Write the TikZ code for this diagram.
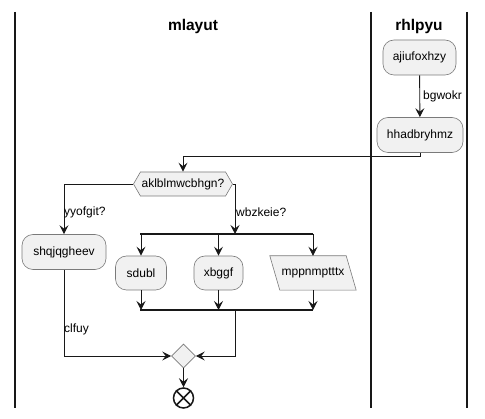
\documentclass[tikz,border=0pt]{standalone}
\usepackage{fontspec}
\setmainfont{Liberation Sans}
\usetikzlibrary{arrows.meta,shapes.geometric,shapes.symbols,backgrounds}
\definecolor{boxfill}{HTML}{F1F1F1}
\definecolor{boxline}{HTML}{7A7A7A}
\definecolor{ink}{HTML}{181818}
\tikzset{
  act/.style={draw=boxline,fill=boxfill,rounded corners=11pt,minimum height=35pt,
    inner sep=0pt,font=\fontsize{12}{14}\selectfont,line width=0.6pt},
  cond/.style={signal,signal to=west and east,signal pointer angle=120,draw=boxline,
    fill=boxfill,minimum width=99pt,minimum height=24pt,inner xsep=1pt,inner ysep=0pt,
    font=\fontsize{12}{14}\selectfont,line width=0.6pt},
  merge/.style={diamond,draw=boxline,fill=boxfill,minimum width=24pt,minimum height=24pt,
    inner sep=0pt,line width=0.6pt},
  flow/.style={draw=ink,line width=0.9pt,-{Stealth[length=9pt,width=9pt,inset=3.5pt]}},
  bar/.style={draw=ink,line width=2pt},
  lane/.style={draw=ink,line width=1.3pt},
  lbl/.style={font=\fontsize{12}{14}\selectfont,inner sep=1pt},
  title/.style={font=\fontsize{15.5}{18}\selectfont\bfseries}
}
\begin{document}
\begin{tikzpicture}[x=1pt,y=-1pt]
\useasboundingbox (0,0) rectangle (485,419);
\draw[lane] (15,12) -- (15,408);
\draw[lane] (371,12) -- (371,408);
\draw[lane] (467,12) -- (467,408);
\node[title] (mlayut) at (193,26) {mlayut};
\node[title] (rhlpyu) at (419,26) {rhlpyu};

\node[act,minimum width=73pt] (ajiu) at (419.5,57.5) {ajiufoxhzy};
\node[act,minimum width=86pt] (hhad) at (420,135) {hhadbryhmz};
\node[cond] (dec) at (183,184) {aklblmwcbhgn?};
\node[act,minimum width=84pt] (shqj) at (64,252) {shqjqgheev};
\node[act,minimum width=51pt,minimum height=34pt] (sdubl) at (141,273) {sdubl};
\node[act,minimum width=49pt,minimum height=34pt] (xbggf) at (218.5,273) {xbggf};
\node[inner sep=0pt,minimum width=76pt,minimum height=34pt,
  font=\fontsize{12}{14}\selectfont] (mppn) at (313,273) {mppnmptttx};
\begin{scope}[on background layer]
\fill[white] (0,0) rectangle (485,419);
\filldraw[draw=boxline,fill=boxfill,line width=0.6pt]
  ([xshift=-5pt]mppn.north west) -- ([xshift=-5pt]mppn.north east)
  -- ([xshift=5pt]mppn.south east) -- ([xshift=5pt]mppn.south west) -- cycle;
\end{scope}
\node[merge] (mrg) at (183.5,356) {};
\node[circle,draw=ink,line width=1.5pt,minimum size=20pt,inner sep=0pt] (stop) at (183.5,398) {};
\draw[ink,line width=1.5pt] (stop.north west) -- (stop.south east)
  (stop.north east) -- (stop.south west);

\coordinate (forkL) at (140,234);
\coordinate (forkR) at (313,234);
\coordinate (fork) at (235,234);
\coordinate (joinL) at (140,310);
\coordinate (joinR) at (313,310);
\coordinate (join) at (235,310);
\draw[bar] (forkL) -- (forkR);
\draw[bar] (joinL) -- (joinR);

\draw[flow] (ajiu) -- node[lbl,right,xshift=2pt] {bgwokr} (hhad);
\draw[flow] (hhad.south) -- ++(0,4) -| (dec.north);
\draw[flow] (dec.west) -| (shqj.north);
\node[lbl,anchor=west] (yyof) at (63,212) {yyofgit?};
\draw[flow] (dec.east) -| (fork);
\node[lbl,anchor=west] (wbzk) at (235,212) {wbzkeie?};
\draw[flow] (forkL -| sdubl.north) -- (sdubl.north);
\draw[flow] (forkL -| xbggf.north) -- (xbggf.north);
\draw[flow] (forkR) -- (mppn.north);
\draw[flow] (sdubl.south) -- (sdubl.south |- joinL);
\draw[flow] (xbggf.south) -- (xbggf.south |- joinL);
\draw[flow] (mppn.south) -- (joinR);
\draw[flow] (join) |- (mrg.east);
\draw[flow] (shqj.south) |- (mrg.west);
\node[lbl,anchor=west] (clfuy) at (63,329) {clfuy};
\draw[flow] (mrg.south) -- (stop.north);
\end{tikzpicture}
\end{document}
